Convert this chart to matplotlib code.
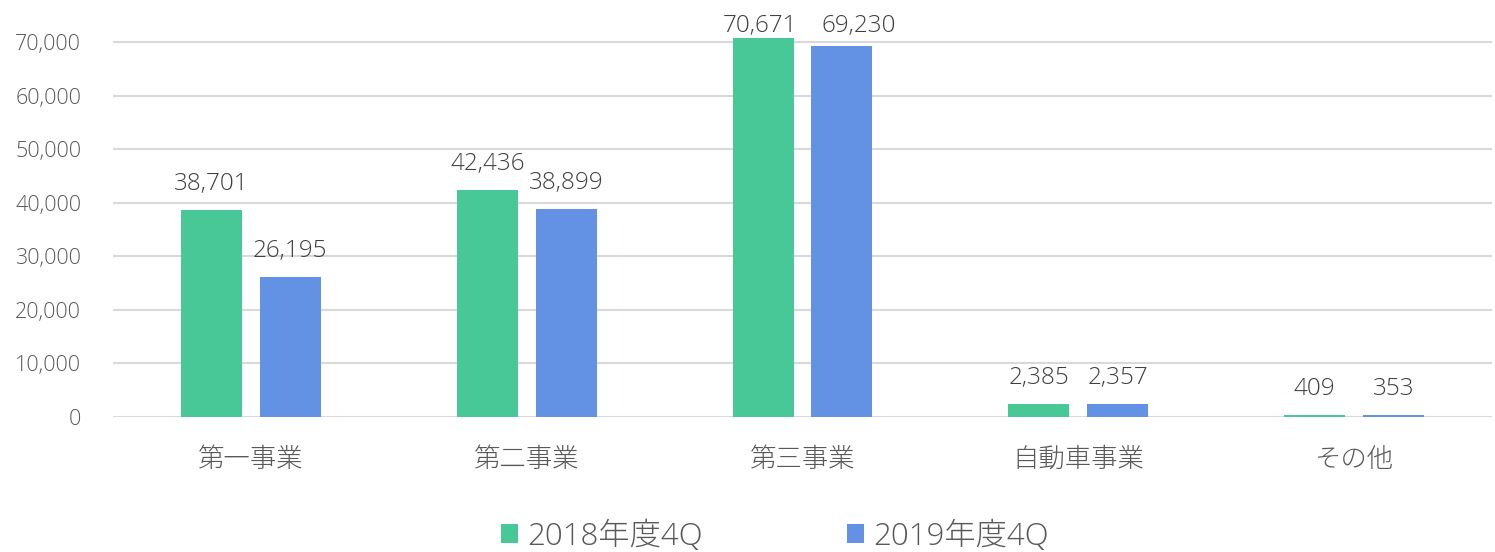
import matplotlib.pyplot as plt
import numpy as np

# Daten
kategorien = ['第一事業', '第二事業', '第三事業', '自動車事業', 'その他']
werte_2018 = [38701, 42436, 70671, 2385, 409]
werte_2019 = [26195, 38899, 69230, 2357, 353]
serien = ['2018年度4Q', '2019年度4Q']

gruen = '#48C797'
blau = '#6392E5'
grau = '#595959'

plt.rcParams['font.family'] = ['Open Sans', 'Noto Sans CJK JP', 'DejaVu Sans']
plt.rcParams['font.weight'] = 'light'

fig = plt.figure(figsize=(14.95, 5.52), dpi=100)
ax = fig.add_axes([113 / 1495, 1 - 417 / 552, 1379 / 1495, 383 / 552])

x = np.arange(len(kategorien))
breite = 0.221
versatz = 0.143

b1 = ax.bar(x - versatz, werte_2018, breite, color=gruen, label=serien[0], zorder=3)
b2 = ax.bar(x + versatz, werte_2019, breite, color=blau, label=serien[1], zorder=3)

ax.set_xlim(-0.5, 4.5)
ax.set_ylim(0, 71500)

# Wertbeschriftungen (oben im Diagrammbereich halten, wie Excel)
fig_h = fig.get_figheight() * fig.dpi
for i in range(len(kategorien)):
    paar = [b1[i], b2[i]]
    abst = []
    for r in paar:
        top_px = ax.transData.transform((0, r.get_height()))[1]
        abst.append(min(14, max(0, fig_h - 38 - top_px)))
    # beide oben gedrückt -> seitlich auseinanderschieben
    if max(abst) < 14:
        dx = [-3, 17]
    else:
        dx = [0, 0]
    for r, a, d in zip(paar, abst, dx):
        h = r.get_height()
        ax.annotate(f'{int(h):,}', (r.get_x() + r.get_width() / 2, h),
                    xytext=(d * 72 / fig.dpi, a * 72 / fig.dpi), textcoords='offset points',
                    ha='center', va='bottom', fontsize=17.5, color='#404040',
                    annotation_clip=False)

ax.set_yticks(range(0, 70001, 10000))
ax.set_yticklabels([f'{v:,}' for v in range(0, 70001, 10000)], fontsize=15.5, color=grau)
ax.set_xticks(x)
ax.set_xticklabels(kategorien, fontsize=19, color=grau)
ax.tick_params(axis='both', length=0)
ax.tick_params(axis='y', pad=23)
ax.tick_params(axis='x', pad=22)

ax.yaxis.grid(True, color='#D9D9D9', linewidth=1.5, zorder=0)
for s in ax.spines.values():
    s.set_visible(False)

ax.legend(loc='lower center', bbox_to_anchor=(0.48, -0.428), ncol=2, frameon=False,
          fontsize=22.5, labelcolor=grau, handlelength=0.55, handleheight=0.55,
          handletextpad=0.3, columnspacing=4.6)

plt.savefig('out.png', dpi=100)
